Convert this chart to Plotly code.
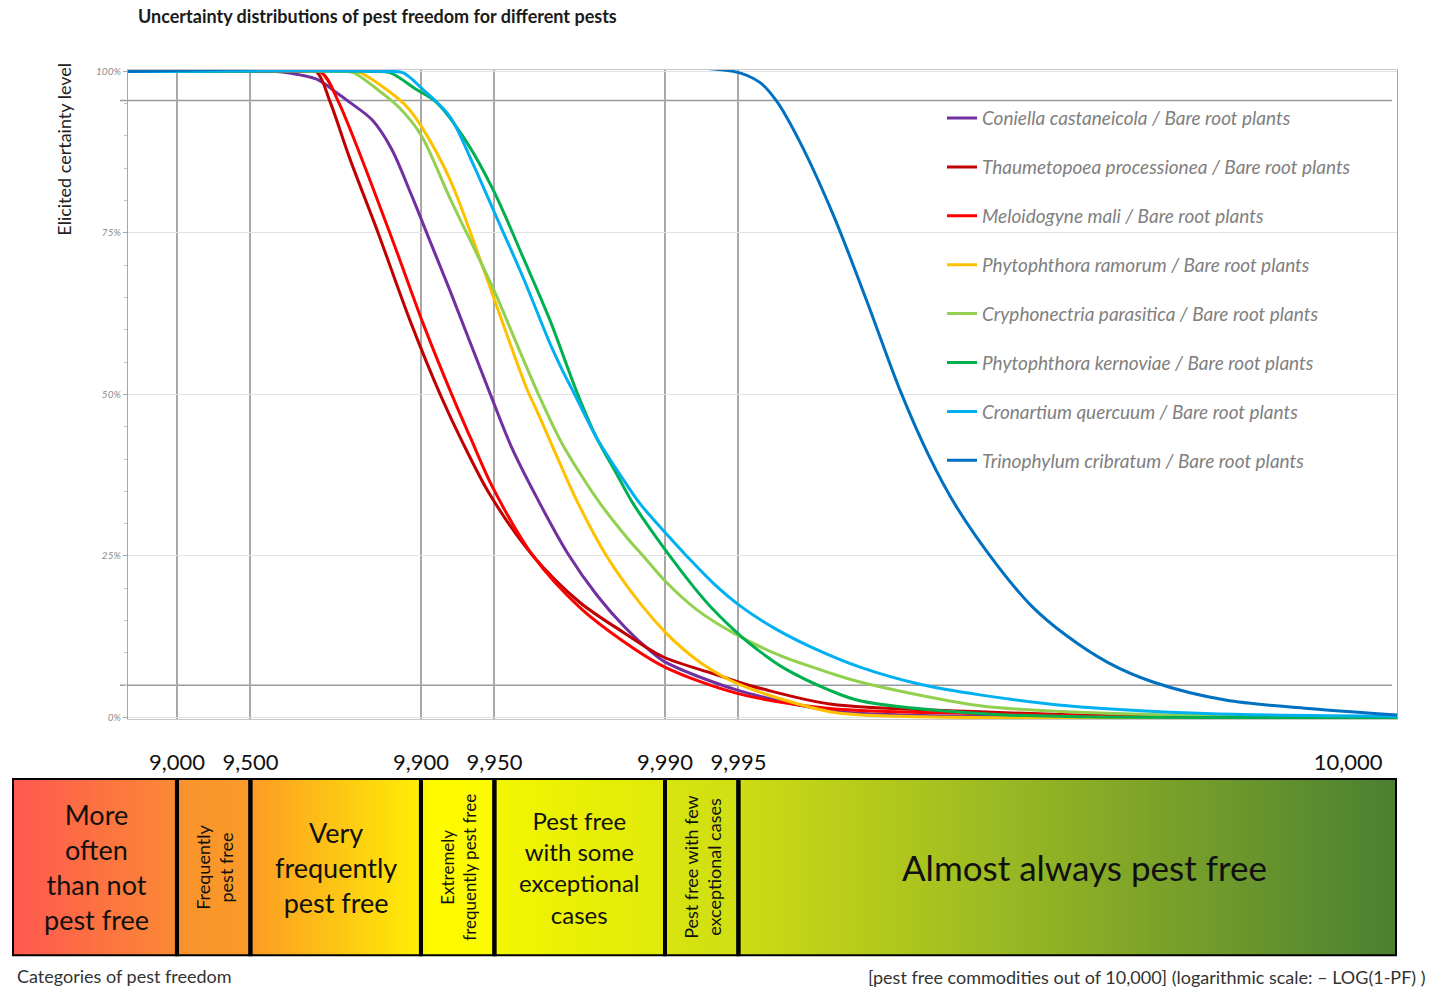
import numpy as np
import plotly.graph_objects as go

# ---------------------------------------------------------------------------
# Data: x = -log10(1 - PF)  (PF = share of pest free commodities)
#       y = elicited certainty level in %
# ---------------------------------------------------------------------------
coniella_x = [0.8, 1.40, 1.434, 1.573, 1.655, 1.709, 1.80, 1.88, 1.96, 2.04, 2.119,
              2.283, 2.372, 2.474, 2.60, 2.72, 2.84, 2.94, 3.0, 3.30, 3.676, 3.963, 6.0]
coniella_y = [100, 100, 99.9, 98.8, 96.7, 95.2, 92.5, 88.0, 81.0, 73.5, 66.1,
              50.2, 41.8, 34.1, 25.5, 19.0, 13.8, 10.3, 8.6, 4.2, 1.1, 0.4, 0]

thaumetopoea_x = [0.8, 1.50, 1.573, 1.627, 1.709, 1.825, 1.955, 2.085, 2.172, 2.283, 2.46,
                  2.652, 2.829, 2.992, 3.197, 3.30, 3.402, 3.676, 4.291, 4.783, 6.0]
thaumetopoea_y = [100, 100, 99.9, 95.4, 86.5, 75.0, 61.5, 49.5, 42.5, 34.5, 25.0,
                  17.8, 13.2, 9.4, 6.8, 5.5, 4.4, 2.1, 0.9, 0.3, 0]

meloidogyne_x = [0.8, 1.50, 1.593, 1.661, 1.873, 2.009, 2.132, 2.201, 2.296, 2.46,
                 2.652, 2.829, 3.0, 3.30, 3.676, 4.291, 4.783, 6.0]
meloidogyne_y = [100, 100, 99.8, 95.4, 75.0, 61.0, 49.5, 43.5, 35.5, 25.0,
                 17.0, 11.8, 7.8, 3.7, 1.4, 0.6, 0.2, 0]

ramorum_x = [0.8, 1.70, 1.750, 1.873, 1.941, 2.0, 2.119, 2.255, 2.337, 2.433, 2.488,
             2.583, 2.645, 2.761, 2.898, 3.004, 3.075, 3.157, 3.30, 3.676, 3.963, 6.0]
ramorum_y = [100, 100, 99.8, 96.8, 94.6, 91.6, 83.3, 69.6, 60.9, 51.0, 46.4,
             38.2, 33.1, 25.0, 17.7, 13.1, 10.6, 8.2, 5.2, 0.9, 0.2, 0]

parasitica_x = [0.8, 1.68, 1.723, 1.846, 1.914, 2.0, 2.119, 2.30, 2.392, 2.488, 2.570,
                2.652, 2.741, 2.850, 2.911, 3.004, 3.130, 3.280, 3.471, 3.676, 3.799,
                4.291, 4.648, 5.213, 6.0]
parasitica_y = [100, 100, 99.8, 96.5, 94.3, 90.2, 80.4, 66.1, 57.9, 49.5, 43.0,
                37.8, 32.8, 27.6, 25.0, 21.0, 16.7, 13.1, 9.6, 6.9, 5.5,
                1.8, 0.9, 0.3, 0]

kernoviae_x = [0.8, 1.80, 1.873, 1.982, 2.064, 2.187, 2.30, 2.419, 2.529, 2.638, 2.720,
               2.795, 2.870, 3.02, 3.116, 3.198, 3.311, 3.376, 3.49, 3.676, 3.799,
               4.291, 4.648, 6.0]
kernoviae_y = [100, 100, 99.8, 97.2, 95.2, 89.1, 81.4, 71.2, 61.5, 50.5, 43.3,
               38.2, 33.1, 25.0, 20.3, 16.7, 12.6, 10.6, 7.6, 4.2, 2.6,
               0.6, 0.15, 0]

quercuum_x = [0.8, 1.85, 1.926, 2.009, 2.119, 2.21, 2.30, 2.419, 2.529, 2.583, 2.624,
              2.720, 2.816, 2.898, 3.004, 3.089, 3.198, 3.311, 3.45, 3.60, 3.80,
              4.05, 4.291, 4.648, 5.213, 6.0]
quercuum_y = [100, 100, 99.8, 97.2, 93.0, 86.0, 78.3, 68.1, 57.9, 53.5, 50.5,
              43.3, 37.6, 33.1, 28.5, 25.0, 20.8, 17.2, 13.8, 10.9, 7.8,
              5.1, 3.5, 1.8, 0.6, 0.2]

trinophylum_x = [0.8, 3.28, 3.389, 3.458, 3.553, 3.690, 3.827, 3.963, 4.082, 4.195, 4.365,
                 4.504, 4.648, 4.816, 5.0, 5.297, 5.635, 6.0]
trinophylum_y = [100, 100, 98.3, 95.4, 89.1, 77.8, 64.5, 50.7, 40.5, 32.6, 23.4,
                 17.2, 12.6, 8.5, 5.5, 2.7, 1.4, 0.4]

series_names = [
    "Coniella castaneicola / Bare root plants",
    "Thaumetopoea processionea / Bare root plants",
    "Meloidogyne mali / Bare root plants",
    "Phytophthora ramorum / Bare root plants",
    "Cryphonectria parasitica / Bare root plants",
    "Phytophthora kernoviae / Bare root plants",
    "Cronartium quercuum / Bare root plants",
    "Trinophylum cribratum / Bare root plants",
]

# Category thresholds (pest free commodities out of 10,000) and labels
thresholds = [9000, 9500, 9900, 9950, 9990, 9995]
threshold_labels = ["9,000", "9,500", "9,900", "9,950", "9,990", "9,995"]
end_label = "10,000"
categories = [
    "More<br>often<br>than not<br>pest free",
    "Frequently<br>pest free",
    "Very<br>frequently<br>pest free",
    "Extremely<br>frequently pest free",
    "Pest free<br>with some<br>exceptional<br>cases",
    "Pest free with few<br>exceptional cases",
    "Almost always pest free",
]

y_ticks = [0, 25, 50, 75, 100]
y_tick_labels = ["0%", "25%", "50%", "75%", "100%"]
reference_levels = [5, 95.5]

# ---------------------------------------------------------------------------
# Styling
# ---------------------------------------------------------------------------
W, H = 1431, 994
FONT = "Lato"
colors = ["#7030A0", "#C00000", "#FF0000", "#FFC000",
          "#92D050", "#00B050", "#00B0F0", "#0070C0"]
cat_fonts = [27, 18, 27, 17, 24, 18, 35]
cat_rotated = [False, True, False, True, False, True, False]
cat_xshift = [2, 0, 0, 0, 0, 0, 17]

X_MIN, X_MAX = 0.8, 6.0        # curve panel
BAR_LEFT = 0.324               # left end of the category bar
END_POS = 5.8                  # where the "10,000" label sits


def px_x(p):
    return p / W


def px_y(p):
    return 1 - p / H


def to_axis(n):
    return -np.log10(1 - n / 10000)


bounds = [BAR_LEFT] + [to_axis(n) for n in thresholds] + [X_MAX]
thr_pos = [to_axis(n) for n in thresholds]

fig = go.Figure()

all_x = [coniella_x, thaumetopoea_x, meloidogyne_x, ramorum_x,
         parasitica_x, kernoviae_x, quercuum_x, trinophylum_x]
all_y = [coniella_y, thaumetopoea_y, meloidogyne_y, ramorum_y,
         parasitica_y, kernoviae_y, quercuum_y, trinophylum_y]

for name, xs, ys, c in zip(series_names, all_x, all_y, colors):
    fig.add_trace(go.Scatter(
        x=xs, y=ys, name=name, mode="lines", legendgroup=name,
        line=dict(color=c, width=3, shape="spline", smoothing=0.9),
        xaxis="x", yaxis="y",
    ))

# colour gradient of the category bar
grad_x = np.linspace(BAR_LEFT, X_MAX, 700)
bar_colors = [
    [0.000, "rgb(255,88,80)"],
    [0.121, "rgb(250,138,52)"],
    [0.125, "rgb(250,148,45)"],
    [0.175, "rgb(250,155,40)"],
    [0.179, "rgb(252,160,35)"],
    [0.295, "rgb(255,238,5)"],
    [0.302, "rgb(255,250,0)"],
    [0.349, "rgb(250,250,0)"],
    [0.352, "rgb(242,246,0)"],
    [0.471, "rgb(224,233,10)"],
    [0.475, "rgb(215,228,15)"],
    [0.526, "rgb(208,222,20)"],
    [0.529, "rgb(205,219,20)"],
    [0.713, "rgb(155,185,35)"],
    [1.000, "rgb(75,128,50)"],
]
fig.add_trace(go.Heatmap(
    x=grad_x, y=[0.5], z=[grad_x], zmin=BAR_LEFT, zmax=X_MAX,
    colorscale=bar_colors, showscale=False, hoverinfo="skip",
    xaxis="x2", yaxis="y2",
))

shapes = []
# black outlines of the category boxes
for a, b in zip(bounds[:-1], bounds[1:]):
    shapes.append(dict(type="rect", xref="x2", yref="y2", x0=a, x1=b, y0=0, y1=1,
                       line=dict(color="black", width=4), fillcolor="rgba(0,0,0,0)"))
# lower and upper reference levels
for yv in reference_levels:
    shapes.append(dict(type="line", xref="paper", yref="y",
                       x0=px_x(120), x1=px_x(1392), y0=yv, y1=yv,
                       line=dict(color="#9a9a9a", width=1.5), layer="below"))

annotations = []
for i, txt in enumerate(categories):
    annotations.append(dict(
        x=(bounds[i] + bounds[i + 1]) / 2, y=0.5, xref="x2", yref="y2",
        text=txt, showarrow=False, xshift=cat_xshift[i],
        textangle=-90 if cat_rotated[i] else 0,
        font=dict(family=FONT, size=cat_fonts[i], color="#111111"),
        align="center", xanchor="center", yanchor="middle",
    ))

annotations += [
    dict(x=px_x(64), y=px_y(146), xref="paper", yref="paper",
         text="Elicited certainty level", textangle=-90, showarrow=False,
         font=dict(family=FONT, size=18, color="#222222"),
         xanchor="center", yanchor="middle"),
    dict(x=px_x(15), y=px_y(980), xref="paper", yref="paper",
         text="Categories of pest freedom", showarrow=False,
         font=dict(family=FONT, size=18, color="#333333"),
         xanchor="left", yanchor="middle"),
    dict(x=px_x(1428), y=px_y(981), xref="paper", yref="paper",
         text="[pest free commodities out of 10,000] (logarithmic scale: \u2013 LOG(1-PF) )",
         showarrow=False, font=dict(family=FONT, size=18, color="#333333"),
         xanchor="right", yanchor="middle"),
]

y_pad = 0.25
fig.update_layout(
    width=W, height=H, autosize=False,
    margin=dict(l=0, r=0, t=0, b=0),
    paper_bgcolor="white", plot_bgcolor="white",
    title=dict(text="Uncertainty distributions of pest freedom for different pests",
               x=px_x(138), xanchor="left", y=px_y(17), yanchor="middle",
               font=dict(family=FONT, size=18, color="#1a1a1a", weight="bold")),
    xaxis=dict(domain=[px_x(128), px_x(1397)], range=[X_MIN, X_MAX],
               tickvals=thr_pos, showticklabels=False, ticks="",
               showgrid=True, gridcolor="#a8a8a8", gridwidth=1.5,
               zeroline=False, showline=True, linecolor="#c8c8c8",
               linewidth=1, mirror=True),
    yaxis=dict(domain=[px_y(719 + y_pad * 6.52), px_y(67 - y_pad * 6.52)],
               range=[-y_pad, 100 + y_pad],
               tickvals=y_ticks, ticktext=y_tick_labels,
               tickfont=dict(family=FONT, size=10, color="#8c8c8c", style="italic"),
               ticks="outside", ticklen=4, tickcolor="#a6a6a6",
               minor=dict(dtick=5, ticks="outside", ticklen=3, tickcolor="#c0c0c0",
                          showgrid=False),
               showgrid=True, gridcolor="#e2e2e2", gridwidth=1,
               zeroline=False, showline=True, linecolor="#a6a6a6",
               linewidth=1.2, mirror=True),
    xaxis2=dict(domain=[px_x(12), px_x(1397)], range=[BAR_LEFT, X_MAX],
                anchor="y2", side="top",
                tickvals=thr_pos + [END_POS], ticktext=threshold_labels + [end_label],
                tickfont=dict(family=FONT, size=22, color="#111111"),
                ticks="", ticklabelstandoff=3,
                showgrid=False, zeroline=False, showline=False),
    yaxis2=dict(domain=[px_y(960), px_y(780)], range=[0, 1], anchor="x2",
                showticklabels=False, showgrid=False, zeroline=False, showline=False),
    legend=dict(x=px_x(942), y=px_y(95), xanchor="left", yanchor="top",
                bgcolor="rgba(0,0,0,0)", tracegroupgap=21.2, itemwidth=30,
                font=dict(family=FONT, size=19, color="#808080", style="italic")),
    shapes=shapes,
    annotations=annotations,
)

fig.write_html("out.html")
